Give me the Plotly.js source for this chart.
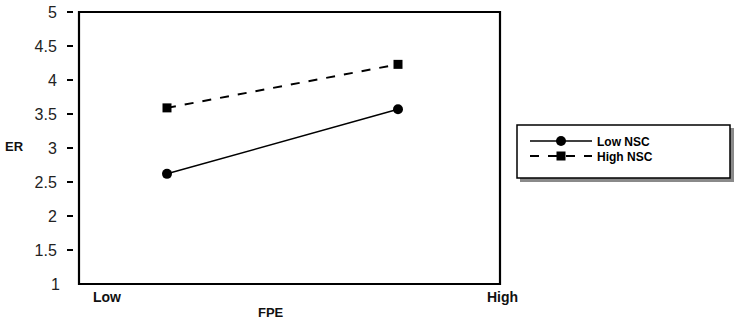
<!DOCTYPE html>
<html>
<head>
<meta charset="utf-8">
<script src="https://cdn.plot.ly/plotly-3.0.1.min.js"></script>
<style>html,body{margin:0;padding:0;background:#fff;}#chart{width:744px;height:325px;}</style>
</head>
<body>
<div id="chart"></div>
<script>
// Data
const fpeLevels = ['Low', 'High'];
const seriesNames = ['Low NSC', 'High NSC'];
const lowNSC = [2.62, 3.57];
const highNSC = [3.59, 4.23];
const yTickVals = [1.5, 2, 2.5, 3, 3.5, 4, 4.5, 5];       // ticks with a dash
const yTickText = ['1.5', '2', '2.5', '3', '3.5', '4', '4.5', '5'];
const yBaseTickVals = [1];                                 // bottom label, no dash
const yBaseTickText = ['1'];
const xAxisLabels = ['Low', 'High'];
const xTitle = 'FPE';
const yTitle = 'ER';

const FONT = 'Liberation Sans, Arial, sans-serif';

const traces = [
  {
    x: fpeLevels, y: lowNSC, name: seriesNames[0], type: 'scatter', mode: 'lines+markers',
    legend: 'legend',
    line: {color: '#000', width: 1.5, dash: 'solid'},
    marker: {symbol: 'circle', size: 10, color: '#000'}
  },
  {
    x: fpeLevels, y: highNSC, name: seriesNames[1], type: 'scatter', mode: 'lines+markers',
    legend: 'legend2',
    line: {color: '#000', width: 2, dash: 'dash'},
    marker: {symbol: 'square', size: 9, color: '#000'}
  },
  // empty helper trace so the overlaying label-only axis (bottom "1") is drawn
  {
    x: fpeLevels, y: [null, null], yaxis: 'y2', type: 'scatter', mode: 'lines',
    showlegend: false, hoverinfo: 'skip', line: {width: 0}
  }
];

const L = 74;
const plotW = 500 - L; // px width of plot area
const pxX = (px) => (px - L) / plotW;
const pxY = (py) => (284 - py) / 272;

const legendCommon = {
  xanchor: 'left', yanchor: 'middle',
  bgcolor: 'rgba(0,0,0,0)', borderwidth: 0,
  font: {family: FONT, size: 12, color: '#000', weight: 'bold'},
  itemwidth: 62, tracegroupgap: 0
};

const tickFont = {family: FONT, size: 16, color: '#222'};

const layout = {
  width: 744, height: 325,
  margin: {l: L, r: 244, t: 12, b: 41},
  paper_bgcolor: '#fff', plot_bgcolor: '#fff',
  showlegend: true,
  xaxis: {
    type: 'category', categoryorder: 'array', categoryarray: fpeLevels,
    range: [(L - 167) / 231, (500 - 167) / 231], showgrid: false, zeroline: false, showline: false,
    showticklabels: false, ticks: ''
  },
  yaxis: {
    range: [1, 5], tickvals: yTickVals, ticktext: yTickText,
    showgrid: false, zeroline: false, showline: false,
    ticks: 'outside', ticklen: 6, tickwidth: 1.5, tickcolor: '#000',
    ticklabelstandoff: 7,
    tickfont: tickFont
  },
  yaxis2: {
    overlaying: 'y', side: 'left', anchor: 'x',
    range: [1, 5], tickvals: yBaseTickVals, ticktext: yBaseTickText,
    showgrid: false, zeroline: false, showline: false,
    ticks: '', ticklabelstandoff: 13,
    tickfont: tickFont
  },
  legend: Object.assign({x: pxX(525), y: pxY(141)}, legendCommon),
  legend2: Object.assign({x: pxX(525), y: pxY(156)}, legendCommon),
  shapes: [
    // plot frame
    {type: 'rect', xref: 'paper', yref: 'paper', x0: pxX(79), x1: 1, y0: 0, y1: 1,
     line: {color: '#000', width: 2.2}, fillcolor: 'rgba(0,0,0,0)', layer: 'above'},
    // legend shadow
    {type: 'rect', xref: 'paper', yref: 'paper', x0: pxX(520), x1: pxX(734), y0: pxY(182), y1: pxY(128),
     line: {width: 0}, fillcolor: '#8a8a8a', layer: 'below'},
    // legend box
    {type: 'rect', xref: 'paper', yref: 'paper', x0: pxX(517), x1: pxX(730), y0: pxY(178), y1: pxY(125),
     line: {color: '#000', width: 1.5}, fillcolor: '#fff', layer: 'below'}
  ],
  annotations: [
    {text: xAxisLabels[0], xref: 'paper', yref: 'paper', x: pxX(107), y: pxY(297), showarrow: false,
     xanchor: 'center', yanchor: 'middle', font: {family: FONT, size: 14, color: '#111', weight: 'bold'}},
    {text: xAxisLabels[1], xref: 'paper', yref: 'paper', x: pxX(502), y: pxY(297), showarrow: false,
     xanchor: 'center', yanchor: 'middle', font: {family: FONT, size: 14, color: '#111', weight: 'bold'}},
    {text: xTitle, xref: 'paper', yref: 'paper', x: pxX(271), y: pxY(312), showarrow: false,
     xanchor: 'center', yanchor: 'middle', font: {family: FONT, size: 13, color: '#111', weight: 'bold'}},
    {text: yTitle, xref: 'paper', yref: 'paper', x: pxX(14), y: pxY(146), showarrow: false,
     xanchor: 'center', yanchor: 'middle', font: {family: FONT, size: 13, color: '#111', weight: 'bold'}}
  ]
};

Plotly.newPlot('chart', traces, layout, {displayModeBar: false, staticPlot: true});
</script>
</body>
</html>
